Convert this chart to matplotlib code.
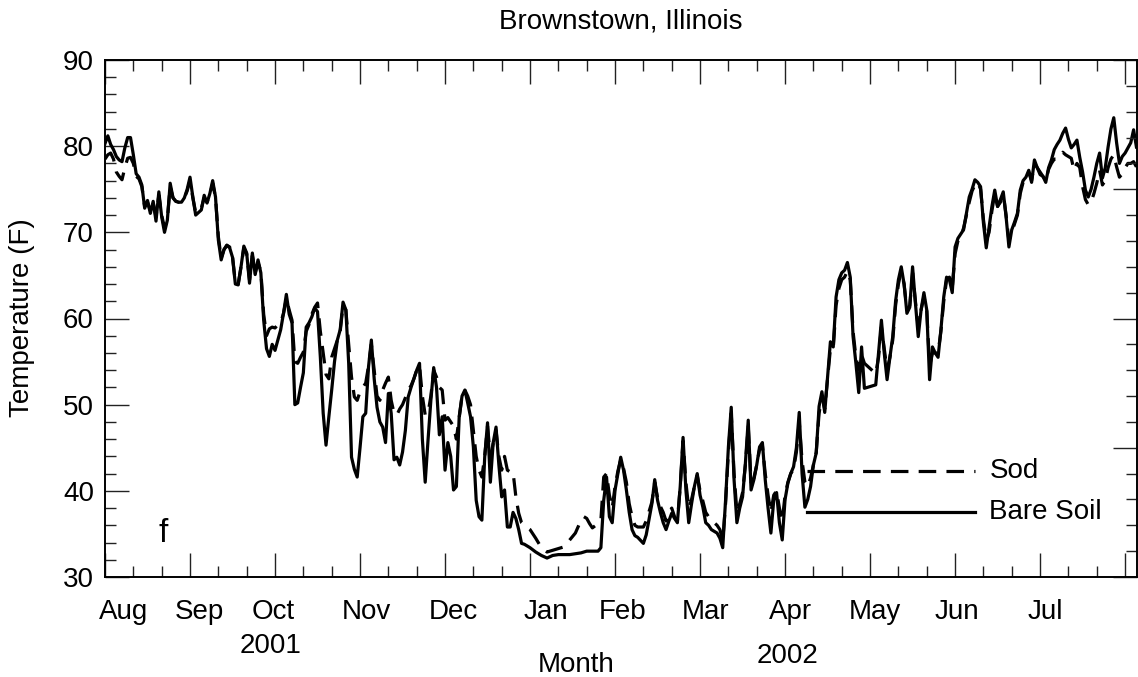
import matplotlib.pyplot as plt
import matplotlib.transforms as mtransforms
from matplotlib.ticker import MultipleLocator

plt.rcParams['font.family'] = ['Liberation Sans', 'DejaVu Sans']

# day number counted from 1 Aug 2001
days = (list(range(0, 149))
        + [150, 152, 154, 156, 158, 160, 162, 164, 166, 168, 169, 170, 171, 172, 174, 175]
        + list(range(176, 189)) + [190, 191, 193] + list(range(194, 215)) + [216]
        + list(range(217, 269)) + list(range(272, 365)))

# daily soil temperature (F), bare soil
bare_soil = [
    80.3, 81.2, 80.2, 79.6, 78.8, 78.4, 78.2, 79.8, 81.0, 81.0,
    79.0, 76.8, 76.4, 75.5, 72.8, 73.7, 72.2, 73.6, 71.3, 74.7,
    71.8, 70.0, 71.4, 75.7, 74.0, 73.6, 73.5, 73.5, 74.0, 75.0,
    76.4, 74.1, 72.0, 72.3, 72.6, 74.3, 73.4, 74.5, 76.0, 74.1,
    69.1, 66.8, 68.0, 68.5, 68.2, 67.1, 64.0, 63.9, 66.0, 68.4,
    67.6, 64.1, 67.6, 65.1, 66.8, 65.3, 59.8, 56.5, 55.6, 57.0,
    56.3, 57.5, 58.7, 60.6, 62.8, 60.5, 59.5, 50.0, 50.2, 52.0,
    53.7, 59.0, 59.5, 60.2, 61.2, 60.8, 55.5, 49.0, 45.3, 48.6,
    51.7, 55.0, 57.5, 58.7, 61.9, 61.0, 54.8, 43.9, 42.5, 41.6,
    45.0, 48.6, 49.0, 54.4, 57.5, 53.0, 49.7, 48.0, 47.4, 45.6,
    51.3, 49.0, 43.6, 43.9, 43.0, 44.5, 47.0, 50.9, 52.0, 53.0,
    54.0, 54.8, 46.0, 41.0, 45.9, 50.5, 54.3, 52.0, 46.5, 48.6,
    42.4, 45.6, 44.0, 40.1, 40.5, 48.6, 51.0, 51.7, 50.2, 48.6,
    45.1, 38.9, 37.0, 36.6, 43.9, 47.9, 41.0, 45.6, 47.4, 43.0,
    39.3, 40.1, 35.8, 35.8, 37.5, 36.8, 35.5, 33.9, 33.8,
    33.4, 32.9, 32.5, 32.2, 32.5, 32.6, 32.6, 32.6, 32.7, 32.8,
    32.9, 33.0, 33.0, 33.0, 33.0, 33.4,
    38.9, 41.6, 37.0, 36.3, 40.1, 42.0, 43.9, 42.4, 40.1, 37.5,
    35.5, 34.8, 34.6,
    33.9, 34.9, 38.5,
    41.3, 38.9, 37.5, 36.3, 35.5, 36.5, 37.4, 36.8, 36.3, 40.5,
    46.2, 40.1, 36.3, 38.5, 40.5, 42.0, 39.5, 38.1, 36.3, 36.0,
    35.5,
    35.1,
    34.5, 33.4, 38.9, 45.1, 49.7, 41.3, 36.3, 38.0, 39.3, 43.2,
    48.2, 40.1, 41.3, 43.0, 45.1, 45.6, 41.3, 38.0, 35.1, 38.9,
    39.8, 36.3, 34.3, 39.0, 40.9, 42.0, 42.8, 45.0, 49.1, 42.0,
    38.1, 39.0, 40.5, 43.0, 44.4, 49.8, 51.5, 49.1, 53.2, 57.3,
    56.7, 62.5, 64.5, 65.3, 65.6, 66.5, 64.8, 57.9, 54.8, 51.4,
    56.7, 51.9,
    52.3, 56.0, 59.8, 56.0, 52.9, 55.5, 57.9, 62.0, 64.5, 66.0,
    64.0, 60.6, 61.3, 66.0, 61.8, 57.9, 61.0, 63.0, 61.0, 52.9,
    56.7, 56.0, 55.5, 58.7, 62.5, 64.8, 64.5, 63.0, 68.3, 69.3,
    69.8, 70.3, 72.2, 74.1, 75.0, 76.1, 75.8, 75.3, 71.1, 68.2,
    70.6, 73.0, 74.9, 73.0, 73.8, 74.7, 71.8, 68.3, 70.3, 71.2,
    72.2, 74.9, 76.0, 76.4, 77.2, 75.8, 78.4, 77.5, 76.7, 76.5,
    75.8, 77.5, 78.4, 79.6, 80.2, 80.7, 81.5, 82.1, 80.8, 79.8,
    80.2, 80.7, 78.7, 77.0, 74.9, 74.1, 75.0, 76.4, 78.0, 79.2,
    76.3, 77.5, 79.9, 82.0, 83.3, 80.4, 78.0, 78.8, 79.2, 79.8,
    80.4, 81.9, 79.9,
]

# daily soil temperature (F), under sod
sod = [
    78.5, 79.0, 79.2, 78.5, 77.0, 76.5, 76.1, 77.5, 78.6, 78.7,
    78.0, 76.5, 76.2, 75.3, 73.0, 73.5, 72.5, 73.4, 71.8, 74.3,
    72.0, 70.5, 71.5, 75.3, 74.0, 73.6, 73.5, 73.8, 74.0, 74.8,
    76.0, 74.0, 72.3, 72.5, 72.8, 74.0, 73.5, 74.3, 75.7, 74.0,
    69.5, 67.0, 68.0, 68.5, 68.3, 67.2, 64.2, 64.0, 66.0, 68.2,
    67.5, 64.5, 67.3, 65.3, 66.5, 65.5, 60.5, 58.0, 58.8, 59.0,
    58.9, 59.3, 59.5, 60.6, 62.3, 61.0, 59.8, 55.0, 54.8, 55.5,
    56.1, 58.5, 59.3, 60.5, 61.3, 61.8, 58.5, 56.0, 53.5, 53.0,
    55.5, 56.5, 57.5, 58.5, 61.5, 61.0, 57.0, 53.2, 50.9, 50.5,
    51.5, 52.0, 52.5, 54.5, 57.0, 54.0, 51.0, 50.5, 51.7, 52.5,
    53.2, 50.5, 49.0, 48.8, 49.5, 50.0, 50.8, 51.7, 52.2, 53.0,
    54.0, 54.5, 51.0, 48.8, 49.0, 51.0, 54.0, 53.2, 52.0, 51.7,
    48.2, 48.5, 48.0, 47.5, 46.0, 48.5, 51.0, 51.7, 51.0, 50.0,
    47.0, 44.0, 42.4, 41.6, 44.0, 47.5, 44.0, 45.5, 47.0, 44.0,
    42.4, 44.0, 42.4, 42.2, 42.2, 39.3, 37.4, 36.3, 36.0,
    35.5, 34.5, 33.4, 32.9, 33.1, 33.3, 33.5, 34.3, 35.1, 36.6,
    37.0, 36.8, 36.2, 35.7, 36.2, 36.6,
    41.6, 42.0, 39.5, 38.0, 40.5, 42.3, 43.6, 42.6, 41.0, 38.5,
    37.0, 36.0, 35.8,
    35.8, 36.5, 38.7,
    41.0, 39.2, 38.2, 37.5, 36.5, 37.5, 38.0, 37.0, 36.5, 40.5,
    45.8, 41.0, 38.0, 39.0, 40.5, 41.8, 40.0, 38.8, 37.5, 37.0,
    36.6,
    36.0,
    35.5, 34.2, 38.5, 44.5, 49.0, 42.0, 37.5, 38.5, 39.8, 43.0,
    47.5, 41.0, 41.5, 43.0, 44.8, 45.3, 42.0, 39.5, 37.5, 39.5,
    40.0, 38.0, 36.5, 39.5, 41.0, 42.0, 42.5, 44.5, 48.0, 43.5,
    41.0, 40.5, 41.5, 43.0, 44.5, 49.0, 51.0, 49.5, 53.0, 56.5,
    56.5, 61.5, 63.5, 64.5, 64.8, 65.5, 64.5, 58.5, 55.5, 54.0,
    55.8, 54.8,
    53.6, 55.5, 59.0, 56.5, 54.0, 55.5, 57.5, 61.5, 64.0, 65.5,
    64.0, 61.0, 61.5, 65.3, 62.0, 59.0, 61.0, 62.5, 61.0, 54.5,
    56.0, 56.0, 56.0, 58.5, 62.0, 64.5, 64.8, 63.5, 67.5, 69.0,
    69.5, 70.5, 72.0, 73.5, 74.8, 75.5, 75.8, 75.0, 71.5, 69.0,
    70.0, 72.5, 74.5, 73.0, 73.5, 74.5, 72.0, 69.0, 70.0, 71.0,
    72.0, 74.5, 75.8, 76.2, 77.0, 76.0, 78.0, 77.5, 77.0, 76.5,
    76.0, 77.3, 78.0, 78.5, 78.5, 79.0, 79.3, 79.0, 78.8, 78.6,
    77.2, 78.0, 77.5, 75.3, 73.8, 73.2, 73.5, 74.5, 75.7, 77.2,
    75.5, 76.0, 77.5, 78.5, 79.0, 77.6, 76.4, 76.8, 77.5, 78.0,
    78.0, 78.2, 77.6,
]

months = ['Aug', 'Sep', 'Oct', 'Nov', 'Dec', 'Jan', 'Feb', 'Mar', 'Apr', 'May', 'Jun', 'Jul']
years = ['2001', '2002']

assert len(days) == len(bare_soil) == len(sod)

W, H = 1138, 677
fig = plt.figure(figsize=(W / 100, H / 100), dpi=100)
ax = fig.add_axes([105 / W, 1 - 577 / H, 1032 / W, 517 / H])

dashes = (5.5, 3.2)
ax.plot(days, sod, color='black', lw=2.3, dashes=dashes)
ax.plot(days, bare_soil, color='black', lw=2.3)

ax.set_xlim(0, 364.2)
ax.set_ylim(30, 90)

# ticks: 30-day majors, 10-day minors, all pointing in
ax.xaxis.set_major_locator(MultipleLocator(30))
ax.xaxis.set_minor_locator(MultipleLocator(10))
ax.yaxis.set_major_locator(MultipleLocator(10))
ax.yaxis.set_minor_locator(MultipleLocator(2))
ax.tick_params(which='both', direction='in', top=True, right=False, width=1.0, color='#222222')
ax.tick_params(which='major', length=17)
ax.tick_params(which='minor', length=8)
ax.tick_params(axis='x', labelbottom=False)
ax.tick_params(axis='y', labelsize=20, pad=8)

# right side carries its own tick spacing
ax_r = ax.twinx()
ax_r.set_ylim(30, 90)
ax_r.yaxis.set_major_locator(MultipleLocator(15))
ax_r.yaxis.set_minor_locator(MultipleLocator(3))
ax_r.tick_params(which='both', direction='in', labelright=False, width=1.0, color='#222222')
ax_r.tick_params(which='major', length=17)
ax_r.tick_params(which='minor', length=8)

for a in (ax, ax_r):
    for s in a.spines.values():
        s.set_linewidth(1.2)

# month names under the axis
month_pos = [6.4, 33.2, 59.3, 92.1, 122.8, 155.7, 182.8, 212.1, 241.8, 271.8, 300.7, 331.8]
trans = mtransforms.blended_transform_factory(ax.transData, ax.transAxes)
for name, x in zip(months, month_pos):
    ax.text(x, -0.0812, name, transform=trans, ha='center', va='baseline', fontsize=20)
ax.text(58.6, -0.147, years[0], transform=trans, ha='center', va='baseline', fontsize=20)
ax.text(240.7, -0.166, years[1], transform=trans, ha='center', va='baseline', fontsize=20)
ax.text(166.3, -0.184, 'Month', transform=trans, ha='center', va='baseline', fontsize=20)

fig.text(22 / W, 1 - 318 / H, 'Temperature (F)', rotation=90, ha='center', va='center', fontsize=20)
fig.text(621 / W, 1 - 22 / H, 'Brownstown, Illinois', ha='center', va='center', fontsize=20)

ax.text(0.056, 0.085, 'f', transform=ax.transAxes, ha='center', va='center', fontsize=24)

# legend drawn by hand
ax.plot([0.68, 0.843], [0.205, 0.205], transform=ax.transAxes, color='black', lw=2.3, dashes=dashes)
ax.plot([0.68, 0.843], [0.126, 0.126], transform=ax.transAxes, color='black', lw=2.3)
ax.text(0.857, 0.205, 'Sod', transform=ax.transAxes, va='center', fontsize=20)
ax.text(0.857, 0.126, 'Bare Soil', transform=ax.transAxes, va='center', fontsize=20)

fig.savefig('out.png', dpi=100)
